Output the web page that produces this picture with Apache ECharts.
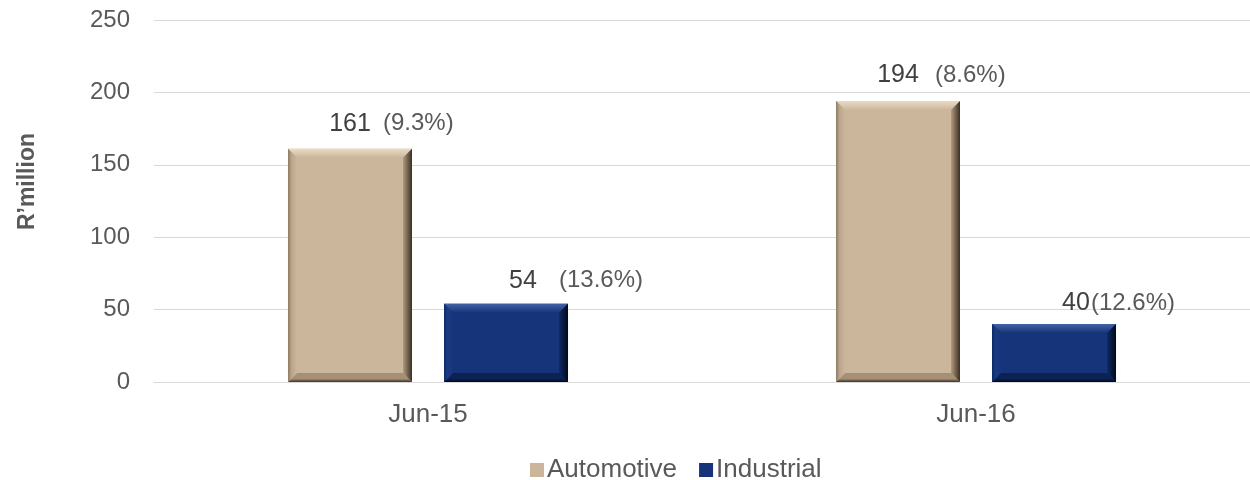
<!DOCTYPE html>
<html>
<head>
<meta charset="utf-8">
<script src="https://cdn.jsdelivr.net/npm/echarts@6/dist/echarts.min.js"></script>
<style>
  html, body { margin: 0; padding: 0; background: #ffffff; }
  #chart { width: 1250px; height: 480px; }
</style>
</head>
<body>
<div id="chart"></div>
<script>
// Segment EBIT, R'million, with margin in brackets
const categories = ['Jun-15', 'Jun-16'];
const automotive = [161, 194];
const industrial = [54, 40];
const automotivePct = ['(9.3%)', '(8.6%)'];
const industrialPct = ['(13.6%)', '(12.6%)'];
const yTicks = { min: 0, max: 250, interval: 50 };

// Bevelled bar palettes: face, top, bottom, left, right inner, right outer
const palettes = [
  { face: '#CBB59B', top: '#EADBC4', bottom: '#A58F75', left: '#BBA68C', leftEdge: '#8E7B65', rIn: '#B19B80', rOut: '#3B2F22' },
  { face: '#163479', top: '#4262A6', bottom: '#0C2254', left: '#1B3B84', leftEdge: '#0F2A64', rIn: '#102A66', rOut: '#020918' }
];

// Label placement relative to each bar centre (value text centre, margin text left edge)
const labelLayout = [
  [ { vdx: 0, pdx: 33, dy: -25 }, { vdx: 0, pdx: 37, dy: -26 } ],
  [ { vdx: 17, pdx: 53, dy: -23 }, { vdx: 22, pdx: 37, dy: -21 } ]
];

const BAR_RATIO = 0.2263;
const GAP_RATIO = 0.0584;
const BEVEL = 9;

function makeRender(seriesIdx, pctLabels) {
  const pal = palettes[seriesIdx];
  return function (params, api) {
    const idx = params.dataIndex;
    const catIdx = api.value(0);
    const val = api.value(1);
    const band = api.size([1, 0])[0];
    const bw = band * BAR_RATIO;
    const gap = band * GAP_RATIO;
    const centre = api.coord([catIdx, 0])[0];
    const cx = centre + (seriesIdx === 0 ? -1 : 1) * (gap / 2 + bw / 2);
    const y0 = api.coord([catIdx, val])[1];
    const y1 = api.coord([catIdx, 0])[1];
    const x0 = cx - bw / 2, x1 = cx + bw / 2;
    const b = Math.min(BEVEL, (y1 - y0) / 2);
    const lay = labelLayout[seriesIdx][idx];
    return {
      type: 'group',
      children: [
        { type: 'rect', shape: { x: x0, y: y0, width: bw, height: y1 - y0 },
          style: { fill: pal.face } },
        { type: 'polygon', shape: { points: [[x0, y0], [x1, y0], [x1 - b, y0 + b], [x0 + b, y0 + b]] },
          style: { fill: new echarts.graphic.LinearGradient(0, 0, 0, 1, [
            { offset: 0, color: pal.top }, { offset: 1, color: pal.face }]) } },
        { type: 'polygon', shape: { points: [[x0, y1], [x1, y1], [x1 - b, y1 - b], [x0 + b, y1 - b]] },
          style: { fill: new echarts.graphic.LinearGradient(0, 1, 0, 0, [
            { offset: 0, color: pal.rOut }, { offset: 0.35, color: pal.bottom }, { offset: 1, color: pal.bottom }]) } },
        { type: 'polygon', shape: { points: [[x0, y0], [x0 + b, y0 + b], [x0 + b, y1 - b], [x0, y1]] },
          style: { fill: new echarts.graphic.LinearGradient(0, 0, 1, 0, [
            { offset: 0, color: pal.leftEdge }, { offset: 0.4, color: pal.left }, { offset: 1, color: pal.face }]) } },
        { type: 'polygon', shape: { points: [[x1, y0], [x1 - b, y0 + b], [x1 - b, y1 - b], [x1, y1]] },
          style: { fill: new echarts.graphic.LinearGradient(0, 0, 1, 0, [
            { offset: 0, color: pal.rIn }, { offset: 1, color: pal.rOut }]) } },
        { type: 'text', x: cx + lay.vdx, y: y0 + lay.dy,
          style: { text: String(val), align: 'center', verticalAlign: 'middle',
            font: '25px "Liberation Sans", Arial, sans-serif', fill: '#404040' } },
        { type: 'text', x: cx + lay.pdx, y: y0 + lay.dy,
          style: { text: pctLabels[idx], align: 'left', verticalAlign: 'middle',
            font: '24px "Liberation Sans", Arial, sans-serif', fill: '#595959' } }
      ]
    };
  };
}

const chart = echarts.init(document.getElementById('chart'), null, { renderer: 'canvas' });

chart.setOption({
  animation: false,
  backgroundColor: '#ffffff',
  textStyle: { fontFamily: '"Liberation Sans", Arial, sans-serif' },
  grid: { left: 154, right: 0, top: 20, bottom: 98, containLabel: false },
  legend: {
    left: 525,
    top: 452,
    itemWidth: 14,
    itemHeight: 14,
    itemGap: 22,
    textStyle: { fontSize: 26, color: '#595959', padding: [0, 0, 0, -2] },
    data: [
      { name: 'Automotive', icon: 'rect' },
      { name: 'Industrial', icon: 'rect' }
    ]
  },
  graphic: [{
    type: 'text',
    left: 16,
    top: 133,
    rotation: Math.PI / 2,
    style: { text: 'R’million', font: 'bold 23px "Liberation Sans", Arial, sans-serif', fill: '#595959' }
  }],
  xAxis: {
    type: 'category',
    data: categories,
    axisLine: { show: true, lineStyle: { color: '#D9D9D9', width: 1 } },
    axisTick: { show: false },
    axisLabel: { fontSize: 26, color: '#595959', margin: 20 },
    splitLine: { show: false }
  },
  yAxis: {
    type: 'value',
    min: yTicks.min,
    max: yTicks.max,
    interval: yTicks.interval,
    axisLine: { show: false },
    axisTick: { show: false },
    axisLabel: { fontSize: 24, color: '#595959', margin: 24 },
    splitLine: { lineStyle: { color: '#D9D9D9', width: 1 } }
  },
  series: [
    {
      name: 'Automotive',
      type: 'custom',
      itemStyle: { color: palettes[0].face },
      encode: { x: 0, y: 1 },
      data: automotive.map((v, i) => [i, v]),
      renderItem: makeRender(0, automotivePct)
    },
    {
      name: 'Industrial',
      type: 'custom',
      itemStyle: { color: palettes[1].face },
      encode: { x: 0, y: 1 },
      data: industrial.map((v, i) => [i, v]),
      renderItem: makeRender(1, industrialPct)
    }
  ]
});
</script>
</body>
</html>
